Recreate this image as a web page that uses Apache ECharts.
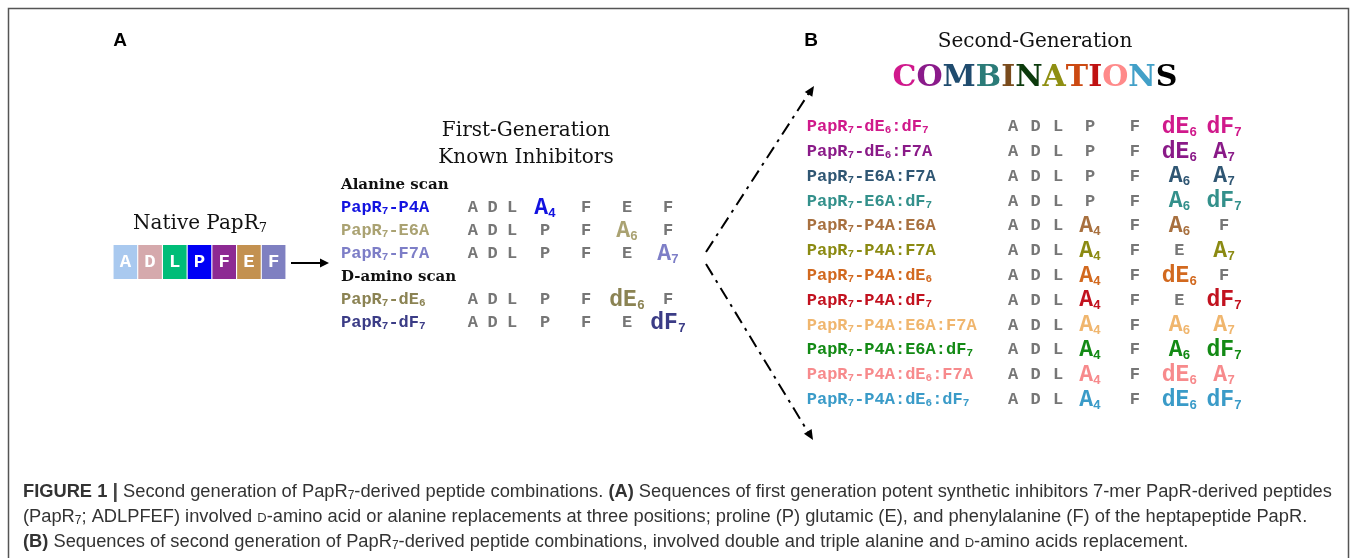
<!DOCTYPE html>
<html>
<head>
<meta charset="utf-8">
<script src="https://cdn.jsdelivr.net/npm/echarts@6/dist/echarts.min.js"></script>
<style>
html, body { margin: 0; padding: 0; background: #fff; }
#chart { width: 1357px; height: 558px; }
</style>
</head>
<body>
<div id="chart"></div>
<script>
// '_' marks the next character as a subscript
var nativeSeq = ['A', 'D', 'L', 'P', 'F', 'E', 'F'];
var positions = ['1', '2', '3', '4', '5', '6', '7'];

var firstGenRows = ['Alanine scan', 'PapR_7-P4A', 'PapR_7-E6A', 'PapR_7-F7A', 'D-amino scan', 'PapR_7-dE_6', 'PapR_7-dF_7'];
var firstGenSeqs = [
	null,
	['A', 'D', 'L', 'A_4', 'F', 'E', 'F'],
	['A', 'D', 'L', 'P', 'F', 'A_6', 'F'],
	['A', 'D', 'L', 'P', 'F', 'E', 'A_7'],
	null,
	['A', 'D', 'L', 'P', 'F', 'dE_6', 'F'],
	['A', 'D', 'L', 'P', 'F', 'E', 'dF_7']
];

var secondGenRows = [
	'PapR_7-dE_6:dF_7',
	'PapR_7-dE_6:F7A',
	'PapR_7-E6A:F7A',
	'PapR_7-E6A:dF_7',
	'PapR_7-P4A:E6A',
	'PapR_7-P4A:F7A',
	'PapR_7-P4A:dE_6',
	'PapR_7-P4A:dF_7',
	'PapR_7-P4A:E6A:F7A',
	'PapR_7-P4A:E6A:dF_7',
	'PapR_7-P4A:dE_6:F7A',
	'PapR_7-P4A:dE_6:dF_7'
];
var secondGenSeqs = [
	['A', 'D', 'L', 'P', 'F', 'dE_6', 'dF_7'],
	['A', 'D', 'L', 'P', 'F', 'dE_6', 'A_7'],
	['A', 'D', 'L', 'P', 'F', 'A_6', 'A_7'],
	['A', 'D', 'L', 'P', 'F', 'A_6', 'dF_7'],
	['A', 'D', 'L', 'A_4', 'F', 'A_6', 'F'],
	['A', 'D', 'L', 'A_4', 'F', 'E', 'A_7'],
	['A', 'D', 'L', 'A_4', 'F', 'dE_6', 'F'],
	['A', 'D', 'L', 'A_4', 'F', 'E', 'dF_7'],
	['A', 'D', 'L', 'A_4', 'F', 'A_6', 'A_7'],
	['A', 'D', 'L', 'A_4', 'F', 'A_6', 'dF_7'],
	['A', 'D', 'L', 'A_4', 'F', 'dE_6', 'A_7'],
	['A', 'D', 'L', 'A_4', 'F', 'dE_6', 'dF_7']
];

var comboWord = ['C', 'O', 'M', 'B', 'I', 'N', 'A', 'T', 'I', 'O', 'N', 'S'];

// colours
var nativeColors = ['#a9c9ef', '#d5a9ac', '#00bd78', '#0000f5', '#8d2a93', '#c39150', '#7f80c1'];
var firstGenColors = ['#000', '#1212e0', '#aaa272', '#7d7ec7', '#000', '#8b8353', '#3b3c86'];
var secondGenColors = ['#d0198b', '#8a1a88', '#2f5673', '#33908b', '#a8703f', '#8b8a12', '#d2691f', '#c2121f', '#f0b66e', '#138a15', '#f78a8c', '#3a9bc8'];
var comboColors = ['#d0188c', '#8a1a8a', '#1f4b6e', '#2b7b78', '#7a4b1c', '#0c3a0c', '#8f8f12', '#cc4a12', '#c01212', '#ff8a8a', '#42a0c8', '#000'];
var greyRes = '#767676';
var mono = '"Liberation Mono", "DejaVu Sans Mono", monospace';
var serif = '"DejaVu Serif", "Liberation Serif", serif';
var sans = '"Liberation Sans", Arial, sans-serif';

var richify = function (str, n, s) {
	var out = '', buf = '';
	for (var i = 0; i < str.length; i++) {
		if (str[i] === '_') {
			if (buf) { out += '{' + n + '|' + buf + '}'; buf = ''; }
			out += '{' + s + '|' + str[i + 1] + '}';
			i++;
		} else {
			buf += str[i];
		}
	}
	if (buf) out += '{' + n + '|' + buf + '}';
	return out;
};

var nameRich = function (colors) {
	var rich = {
		h: { fontFamily: serif, fontWeight: 'bold', fontSize: 15, color: '#111' }
	};
	colors.forEach(function (c, i) {
		rich['n' + i] = { fontFamily: mono, fontWeight: 'bold', fontSize: 17, color: c };
		rich['s' + i] = { fontFamily: mono, fontWeight: 'bold', fontSize: 11, color: c, padding: [7, 0, 0, 0] };
	});
	return rich;
};

var resRich = function (colors) {
	var rich = {
		g: { fontFamily: mono, fontWeight: 'bold', fontSize: 17, color: greyRes }
	};
	colors.forEach(function (c, i) {
		rich['m' + i] = { fontFamily: mono, fontWeight: 'bold', fontSize: 23, color: c };
		rich['q' + i] = { fontFamily: mono, fontWeight: 'bold', fontSize: 13, color: c, padding: [11, 0, 0, 0] };
	});
	return rich;
};

var residueData = function (rows, seqs, from, to) {
	var out = [];
	seqs.forEach(function (seq, r) {
		if (!seq) return;
		for (var j = from; j < to; j++) {
			out.push({ value: [positions[j], rows[r]], token: seq[j], row: r, changed: seq[j] !== nativeSeq[j] });
		}
	});
	return out;
};

var resLabel = function (p) {
	var d = p.data;
	return d.changed ? richify(d.token, 'm' + d.row, 'q' + d.row) : '{g|' + d.token + '}';
};

var arrowHead = function (x1, y1, x2, y2, len, half) {
	var dx = x2 - x1, dy = y2 - y1, L = Math.sqrt(dx * dx + dy * dy);
	var ux = dx / L, uy = dy / L;
	var bx = x2 - ux * len, by = y2 - uy * len;
	return [[x2, y2], [bx - uy * half, by + ux * half], [bx + uy * half, by - ux * half]];
};

var chartDom = document.getElementById('chart');
var myChart = echarts.init(chartDom);

var hiddenX = function (grid, data) {
	return { type: 'category', gridIndex: grid, data: data, show: false };
};
var hiddenY = function (grid, data) {
	return { type: 'category', gridIndex: grid, data: data, inverse: true, show: false };
};
var labelY = function (grid, rows, seqs, colors, margin) {
	return {
		type: 'category',
		gridIndex: grid,
		data: rows,
		inverse: true,
		axisLine: { show: false },
		axisTick: { show: false },
		splitLine: { show: false },
		axisLabel: {
			interval: 0,
			align: 'left',
			margin: margin,
			rich: nameRich(colors),
			formatter: function (v, i) {
				if (!seqs[i]) return '{h|' + v + '}';
				return richify(v, 'n' + i, 's' + i);
			}
		}
	};
};
var resSeries = function (xi, data, colors) {
	return {
		type: 'scatter',
		xAxisIndex: xi,
		yAxisIndex: xi,
		symbolSize: 1,
		itemStyle: { color: 'rgba(0,0,0,0)', opacity: 1 },
		silent: true,
		data: data,
		label: {
			show: true,
			position: 'inside',
			formatter: resLabel,
			rich: resRich(colors)
		}
	};
};

var caption = [
	'{b|FIGURE 1 }{bar||}{t| Second generation of PapR}{ts|7}{t|-derived peptide combinations. }{b|(A)}{t| Sequences of first generation potent synthetic inhibitors 7-mer PapR-derived peptides}',
	'{t|(PapR}{ts|7}{t|; ADLPFEF) involved }{sc|D}{t|-amino acid or alanine replacements at three positions; proline (P) glutamic (E), and phenylalanine (F) of the heptapeptide PapR.}',
	'{b|(B)}{t| Sequences of second generation of PapR}{ts|7}{t|-derived peptide combinations, involved double and triple alanine and }{sc|D}{t|-amino acids replacement.}'
];
var capRich = {
	t: { fontFamily: sans, fontSize: 18.3, fill: '#333' },
	b: { fontFamily: sans, fontSize: 18.3, fontWeight: 'bold', fill: '#333' },
	bar: { fontFamily: sans, fontSize: 20, fontWeight: 'bold', fill: '#444' },
	ts: { fontFamily: sans, fontSize: 12, fill: '#333', padding: [7, 0, 0, 0] },
	sc: { fontFamily: sans, fontSize: 13, fill: '#333', padding: [3, 0, 0, 0] }
};

var comboText = comboWord.map(function (ch, i) { return '{c' + i + '|' + ch + '}'; }).join('');
var comboRich = {};
comboColors.forEach(function (c, i) {
	comboRich['c' + i] = { fontFamily: serif, fontWeight: 'bold', fontSize: 30, fill: c };
});

var graphics = [
	{ type: 'rect', shape: { x: 8.5, y: 8.5, width: 1340, height: 570 }, style: { fill: 'none', stroke: '#555', lineWidth: 1.5 } },
	{ type: 'text', x: 120, y: 41, style: { text: 'A', fontFamily: sans, fontWeight: 'bold', fontSize: 19, fill: '#000', align: 'center', verticalAlign: 'middle' } },
	{ type: 'text', x: 811, y: 41, style: { text: 'B', fontFamily: sans, fontWeight: 'bold', fontSize: 19, fill: '#000', align: 'center', verticalAlign: 'middle' } },
	{ type: 'text', x: 200, y: 224, style: { text: '{a|Native PapR}{b|7}', align: 'center', verticalAlign: 'middle', rich: {
		a: { fontFamily: serif, fontSize: 20, fill: '#111' },
		b: { fontFamily: serif, fontSize: 13, fill: '#111', padding: [9, 0, 0, 0] } } } },
	{ type: 'text', x: 526, y: 131, style: { text: 'First-Generation', fontFamily: serif, fontSize: 20, fill: '#111', align: 'center', verticalAlign: 'middle' } },
	{ type: 'text', x: 526, y: 158, style: { text: 'Known Inhibitors', fontFamily: serif, fontSize: 20, fill: '#111', align: 'center', verticalAlign: 'middle' } },
	{ type: 'text', x: 1035, y: 42, style: { text: 'Second-Generation', fontFamily: serif, fontSize: 20, fill: '#111', align: 'center', verticalAlign: 'middle' } },
	{ type: 'text', x: 1035, y: 78, style: { text: comboText, rich: comboRich, align: 'center', verticalAlign: 'middle' } },
	// native -> first generation
	{ type: 'line', shape: { x1: 291, y1: 263, x2: 321, y2: 263 }, style: { stroke: '#000', lineWidth: 2 } },
	{ type: 'polygon', shape: { points: arrowHead(291, 263, 329, 263, 9, 4.5) }, style: { fill: '#000' } },
	// first generation -> combinations
	{ type: 'line', shape: { x1: 706, y1: 252, x2: 809, y2: 93 }, style: { stroke: '#000', lineWidth: 2, lineDash: [13, 6, 3, 6] } },
	{ type: 'polygon', shape: { points: arrowHead(706, 252, 814, 86, 10, 4.5) }, style: { fill: '#000' } },
	{ type: 'line', shape: { x1: 706, y1: 264, x2: 808, y2: 432 }, style: { stroke: '#000', lineWidth: 2, lineDash: [13, 6, 3, 6] } },
	{ type: 'polygon', shape: { points: arrowHead(706, 264, 813, 440, 10, 4.5) }, style: { fill: '#000' } }
];
caption.forEach(function (line, i) {
	graphics.push({ type: 'text', x: 23, y: 492 + i * 25, style: { text: line, rich: capRich, align: 'left', verticalAlign: 'middle' } });
});

var option = {
	animation: false,
	backgroundColor: '#fff',
	grid: [
		{ left: 113, top: 245, width: 173, height: 34 },
		{ left: 463, top: 173.5, width: 59, height: 161 },
		{ left: 524.5, top: 173.5, width: 164, height: 161 },
		{ left: 1001.75, top: 114.6, width: 67.5, height: 297.6 },
		{ left: 1067.7, top: 114.6, width: 178.8, height: 297.6 }
	],
	xAxis: [
		hiddenX(0, positions),
		hiddenX(1, positions.slice(0, 3)),
		hiddenX(2, positions.slice(3)),
		hiddenX(3, positions.slice(0, 3)),
		hiddenX(4, positions.slice(3))
	],
	yAxis: [
		hiddenY(0, ['native']),
		labelY(1, firstGenRows, firstGenSeqs, firstGenColors, 122),
		hiddenY(2, firstGenRows),
		labelY(3, secondGenRows, secondGenSeqs, secondGenColors, 195),
		hiddenY(4, secondGenRows)
	],
	series: [
		{
			type: 'scatter',
			xAxisIndex: 0,
			yAxisIndex: 0,
			symbol: 'rect',
			symbolSize: [23.6, 34],
			silent: true,
			data: nativeSeq.map(function (r, i) {
				return { value: [positions[i], 'native'], itemStyle: { color: nativeColors[i], opacity: 1 } };
			}),
			label: {
				show: true,
				position: 'inside',
				formatter: function (p) { return nativeSeq[p.dataIndex]; },
				fontFamily: mono,
				fontWeight: 'bold',
				fontSize: 19,
				color: '#fff'
			}
		},
		resSeries(1, residueData(firstGenRows, firstGenSeqs, 0, 3), firstGenColors),
		resSeries(2, residueData(firstGenRows, firstGenSeqs, 3, 7), firstGenColors),
		resSeries(3, residueData(secondGenRows, secondGenSeqs, 0, 3), secondGenColors),
		resSeries(4, residueData(secondGenRows, secondGenSeqs, 3, 7), secondGenColors)
	],
	graphic: graphics
};

option && myChart.setOption(option);
</script>
</body>
</html>
